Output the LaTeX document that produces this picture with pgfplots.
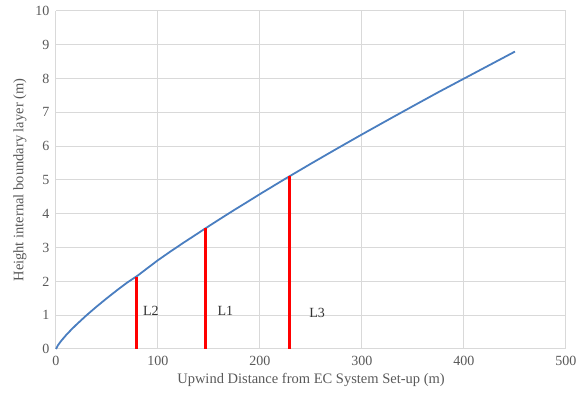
\documentclass[border=0pt]{standalone}
\usepackage{fontspec}
\setmainfont{Liberation Serif}
\usepackage{pgfplots}
\pgfplotsset{compat=1.18}
\definecolor{gridc}{HTML}{D9D9D9}
\definecolor{txtc}{HTML}{595959}
\definecolor{curve}{HTML}{4A7EC0}
\begin{document}
\begin{tikzpicture}
\begin{axis}[
  scale only axis,
  width=510pt, height=338pt,
  xmin=0, xmax=500, ymin=0, ymax=10,
  xtick={0,100,...,500}, ytick={0,1,...,10},
  grid=major,
  major grid style={gridc, line width=1pt},
  axis line style={gridc, line width=1pt},
  axis x line*=bottom, axis y line*=left,
  separate axis lines,
  y axis line style={draw=none},
  tick style={draw=none},
  tick label style={font=\fontsize{14}{16}\selectfont, text=txtc},
  /pgf/number format/assume math mode=true,
  xticklabel style={yshift=-4pt},
  yticklabel style={xshift=-3pt},
  xlabel={Upwind Distance from EC System Set-up (m)},
  ylabel={Height internal boundary layer (m)},
  label style={font=\fontsize{14.5}{16}\selectfont, text=txtc},
  xlabel style={yshift=0pt},
  ylabel style={yshift=2pt},
  clip=false,
]
\addplot[curve, line width=1.8pt, line join=round] coordinates {
(0,0) (2,0.114) (5,0.237) (10,0.414) (15,0.573) (20,0.721) (30,1.0) (40,1.259)
(50,1.506) (60,1.743) (70,1.97) (80,2.17) (90,2.40) (100,2.628) (112,2.88)
(125,3.144) (137,3.38) (150,3.638) (162,3.87) (175,4.118) (187,4.34) (200,4.584)
(225,5.04) (250,5.484) (275,5.92) (300,6.349) (325,6.77) (350,7.187) (375,7.60)
(400,8.0) (425,8.40) (450,8.8)
};
\addplot[red, line width=2.6pt] coordinates {(79,0) (79,2.14)};
\addplot[red, line width=2.6pt] coordinates {(146.4,0) (146.4,3.57)};
\addplot[red, line width=2.6pt] coordinates {(229,0) (229,5.11)};
\node[font=\fontsize{14}{16}\selectfont, text=black!80] at (axis cs:93,1.12) {L2};
\node[font=\fontsize{14}{16}\selectfont, text=black!80] at (axis cs:166,1.12) {L1};
\node[font=\fontsize{14}{16}\selectfont, text=black!80] at (axis cs:256,1.08) {L3};
\end{axis}
\pgfresetboundingbox
\path (-56pt,-52pt) rectangle (523pt,349pt);
\end{tikzpicture}
\end{document}
